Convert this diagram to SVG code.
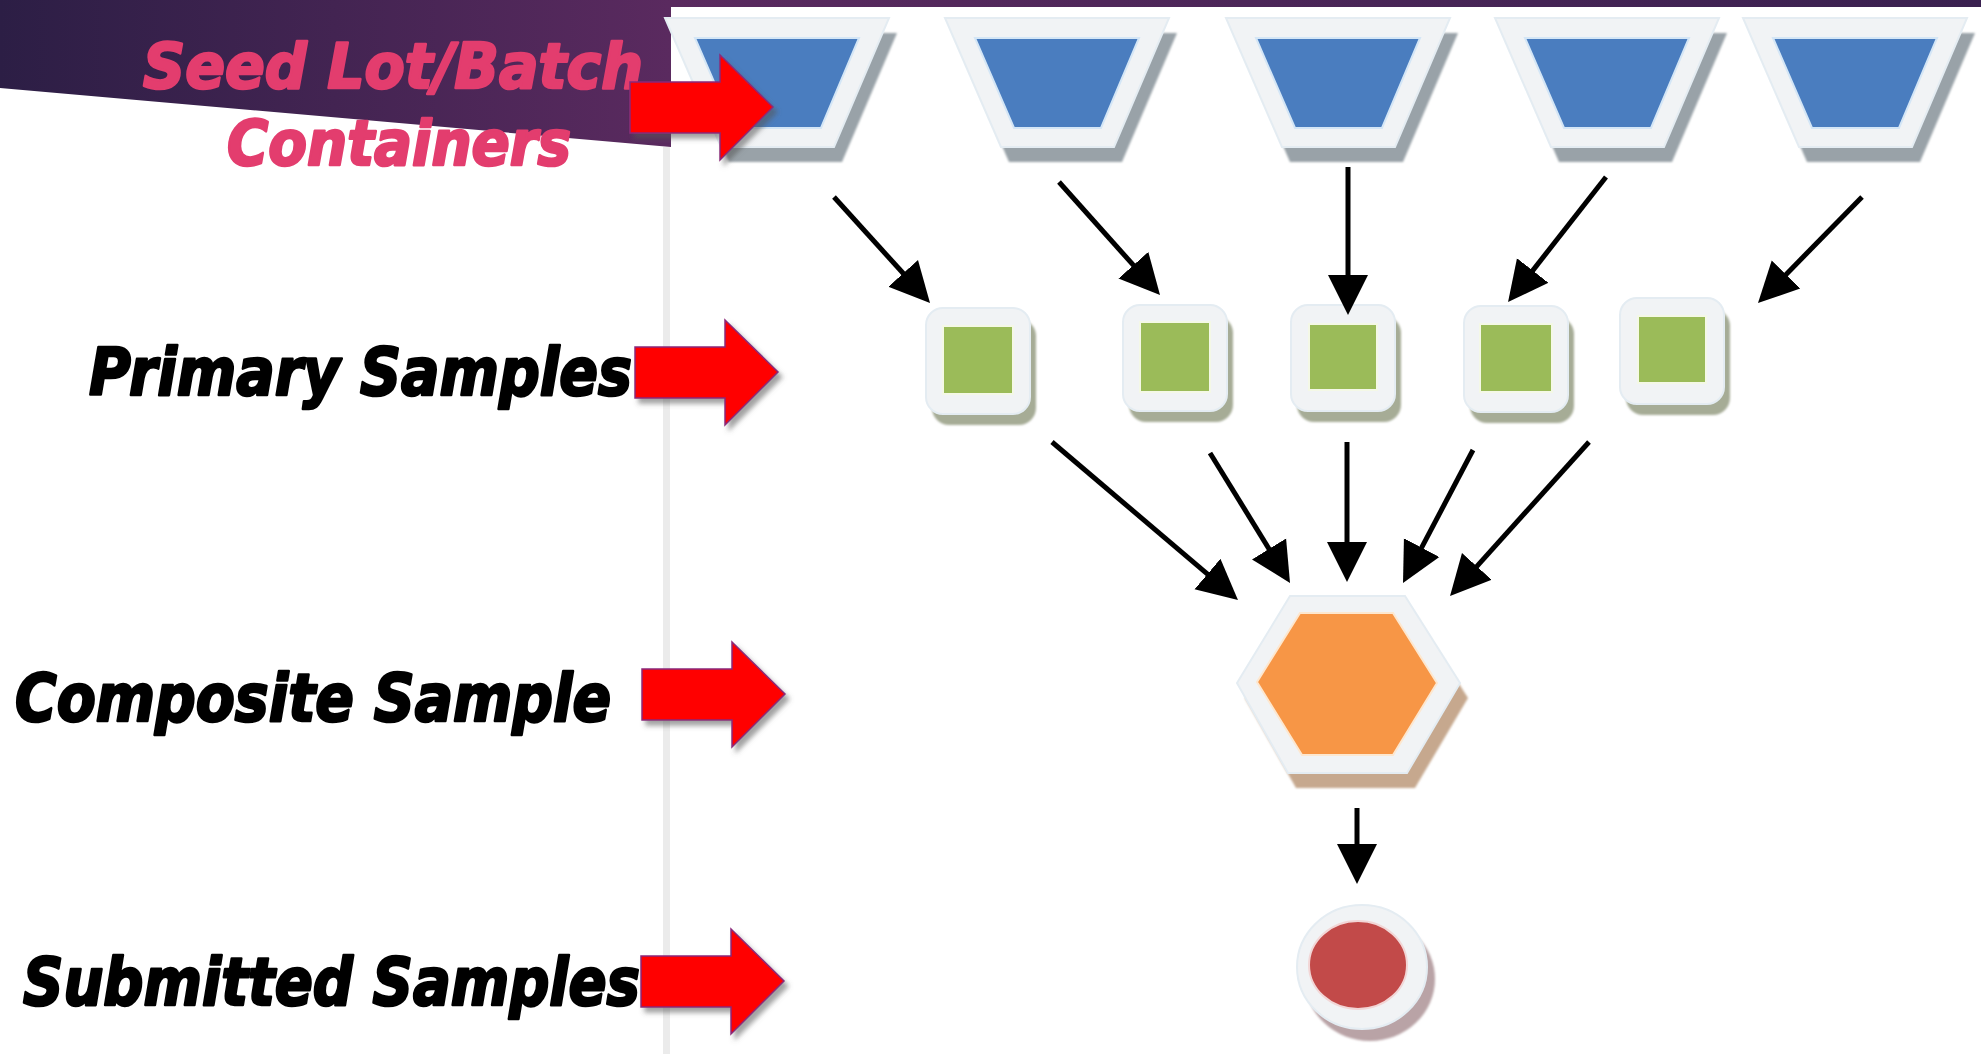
<svg xmlns="http://www.w3.org/2000/svg" width="1981" height="1054" viewBox="0 0 1981 1054">
  <defs>
    <linearGradient id="wedge" x1="0" y1="0" x2="670" y2="0" gradientUnits="userSpaceOnUse">
      <stop offset="0" stop-color="#2c1e45"/>
      <stop offset="1" stop-color="#5a2a5f"/>
    </linearGradient>
    <linearGradient id="strip" x1="670" y1="0" x2="1981" y2="0" gradientUnits="userSpaceOnUse">
      <stop offset="0" stop-color="#5a2a5f"/>
      <stop offset="1" stop-color="#3a2150"/>
    </linearGradient>
    <filter id="redshadow" x="-20%" y="-20%" width="150%" height="150%">
      <feDropShadow dx="4" dy="5" stdDeviation="2.5" flood-color="#555555" flood-opacity="0.55"/>
    </filter>
    <filter id="soft" x="-10%" y="-10%" width="120%" height="120%">
      <feGaussianBlur stdDeviation="1.2"/>
    </filter>
    <marker id="ah" markerUnits="userSpaceOnUse" markerWidth="42" markerHeight="42" viewBox="0 -21 42 42" refX="2" refY="0" orient="auto">
      <path d="M0,-20 L40,0 L0,20 Z" fill="#000"/>
    </marker>
    <path id="redarrow" d="M0,-25 H90 V-52 L143,0 L90,53 V26 H0 Z"/>
    <polygon id="trapFrame" points="-112,18 112,18 57,147 -56,147"/>
    <polygon id="trapBlue" points="-82,38 82,38 44,128 -43,128"/>
  </defs>
  <style>
    .lbl { font-family: "DejaVu Sans", "Liberation Sans", sans-serif; font-weight: bold; font-style: italic; stroke-width: 2.6; stroke-linejoin: round; }
    .pink { fill: #e33d6e; stroke: #e33d6e; }
    .blk { fill: #000; stroke: #000; }
    .ra { fill: #ff0000; stroke: #8a2a7a; stroke-width: 1.5; filter: url(#redshadow); }
    .frame { fill: #f1f3f5; stroke: #e4ecf2; stroke-width: 2; }
    .tshadow { fill: #99a2a8; }
    .gshadow { fill: #a6ac96; }
    .oshadow { fill: #c6a88e; }
    .rshadow { fill: #b9a3a6; }
    .blue { fill: #4a7dbf; stroke: #d4e6f6; stroke-width: 2; }
    .green { fill: #9bbb59; stroke: #f4f8e6; stroke-width: 2; }
    .orange { fill: #f79646; stroke: #fde7cf; stroke-width: 2; }
    .red { fill: #c24a49; stroke: #f2d6d6; stroke-width: 2; }
    .conn line { stroke: #000; stroke-width: 5; marker-end: url(#ah); }
  </style>

  <rect x="0" y="0" width="1981" height="1054" fill="#ffffff"/>
  <!-- banner -->
  <polygon points="0,0 671,0 671,147 0,88" fill="url(#wedge)"/>
  <rect x="670" y="0" width="1311" height="7" fill="url(#strip)"/>
  <rect x="663" y="147" width="7" height="907" fill="#ebebeb"/>

  <!-- containers -->
  <g id="container1" transform="translate(777,0)">
    <use href="#trapFrame" class="tshadow" transform="translate(8,15)" filter="url(#soft)"/>
    <use href="#trapFrame" class="frame"/>
    <use href="#trapBlue" class="blue"/>
  </g>
  <g id="container2" transform="translate(1057,0)">
    <use href="#trapFrame" class="tshadow" transform="translate(8,15)" filter="url(#soft)"/>
    <use href="#trapFrame" class="frame"/>
    <use href="#trapBlue" class="blue"/>
  </g>
  <g id="container3" transform="translate(1338,0)">
    <use href="#trapFrame" class="tshadow" transform="translate(8,15)" filter="url(#soft)"/>
    <use href="#trapFrame" class="frame"/>
    <use href="#trapBlue" class="blue"/>
  </g>
  <g id="container4" transform="translate(1607,0)">
    <use href="#trapFrame" class="tshadow" transform="translate(8,15)" filter="url(#soft)"/>
    <use href="#trapFrame" class="frame"/>
    <use href="#trapBlue" class="blue"/>
  </g>
  <g id="container5" transform="translate(1855,0)">
    <use href="#trapFrame" class="tshadow" transform="translate(8,15)" filter="url(#soft)"/>
    <use href="#trapFrame" class="frame"/>
    <use href="#trapBlue" class="blue"/>
  </g>

  <!-- primary samples -->
  <g id="primary1" transform="translate(978,360)">
    <rect x="-46" y="-41" width="104" height="106" rx="17" class="gshadow" filter="url(#soft)"/>
    <rect x="-52" y="-52" width="104" height="106" rx="17" class="frame"/>
    <rect x="-35" y="-34" width="70" height="68" class="green"/>
  </g>
  <g id="primary2" transform="translate(1175,357)">
    <rect x="-46" y="-41" width="104" height="106" rx="17" class="gshadow" filter="url(#soft)"/>
    <rect x="-52" y="-52" width="104" height="106" rx="17" class="frame"/>
    <rect x="-35" y="-35" width="70" height="70" class="green"/>
  </g>
  <g id="primary3" transform="translate(1343,357)">
    <rect x="-46" y="-41" width="104" height="106" rx="17" class="gshadow" filter="url(#soft)"/>
    <rect x="-52" y="-52" width="104" height="106" rx="17" class="frame"/>
    <rect x="-34" y="-33" width="68" height="66" class="green"/>
  </g>
  <g id="primary4" transform="translate(1516,358)">
    <rect x="-46" y="-41" width="104" height="106" rx="17" class="gshadow" filter="url(#soft)"/>
    <rect x="-52" y="-52" width="104" height="106" rx="17" class="frame"/>
    <rect x="-36" y="-34" width="72" height="68" class="green"/>
  </g>
  <g id="primary5" transform="translate(1672,350)">
    <rect x="-46" y="-41" width="104" height="106" rx="17" class="gshadow" filter="url(#soft)"/>
    <rect x="-52" y="-52" width="104" height="106" rx="17" class="frame"/>
    <rect x="-34" y="-34" width="68" height="67" class="green"/>
  </g>

  <!-- composite sample -->
  <g id="composite">
    <polygon points="1298,611 1413,611 1468,698 1415,788 1296,788 1245,698" class="oshadow" filter="url(#soft)"/>
    <polygon points="1290,596 1405,596 1460,683 1407,773 1288,773 1237,683" class="frame"/>
    <polygon points="1300,613 1393,613 1437,683 1393,755 1302,755 1257,682" class="orange"/>
  </g>

  <!-- submitted sample -->
  <g id="submitted">
    <ellipse cx="1370" cy="979" rx="65" ry="62" class="rshadow" filter="url(#soft)"/>
    <ellipse cx="1362" cy="967" rx="65" ry="62" class="frame"/>
    <ellipse cx="1358" cy="965" rx="49" ry="44" class="red"/>
  </g>

  <!-- connectors -->
  <g id="connectors" class="conn">
    <line x1="834" y1="197" x2="904.5" y2="274.8"/>
    <line x1="1059" y1="182" x2="1134.7" y2="266.7"/>
    <line x1="1348" y1="167" x2="1348" y2="277"/>
    <line x1="1606" y1="177" x2="1531.5" y2="272.1"/>
    <line x1="1862" y1="197" x2="1784.6" y2="275.9"/>
    <line x1="1052" y1="442" x2="1209" y2="575.4"/>
    <line x1="1210" y1="453" x2="1270.1" y2="550.6"/>
    <line x1="1347" y1="442" x2="1347" y2="544"/>
    <line x1="1473" y1="450" x2="1420.7" y2="549.4"/>
    <line x1="1589" y1="442" x2="1475.5" y2="567.8"/>
    <line x1="1357" y1="808" x2="1357" y2="846"/>
  </g>

  <!-- labels -->
  <g id="label-seed">
    <text class="lbl pink" x="143" y="88" font-size="63" textLength="500" lengthAdjust="spacingAndGlyphs">Seed Lot/Batch</text>
    <text class="lbl pink" x="227" y="165" font-size="63" textLength="344" lengthAdjust="spacingAndGlyphs">Containers</text>
    <use href="#redarrow" class="ra" transform="translate(630,107)"/>
  </g>
  <g id="label-primary">
    <text class="lbl blk" x="89" y="395" font-size="65" textLength="543" lengthAdjust="spacingAndGlyphs">Primary Samples</text>
    <use href="#redarrow" class="ra" transform="translate(635,372)"/>
  </g>
  <g id="label-composite">
    <text class="lbl blk" x="15" y="721" font-size="65" textLength="596" lengthAdjust="spacingAndGlyphs">Composite Sample</text>
    <use href="#redarrow" class="ra" transform="translate(642,694)"/>
  </g>
  <g id="label-submitted">
    <text class="lbl blk" x="23" y="1005" font-size="65" textLength="617" lengthAdjust="spacingAndGlyphs">Submitted Samples</text>
    <use href="#redarrow" class="ra" transform="translate(641,981)"/>
  </g>
</svg>
